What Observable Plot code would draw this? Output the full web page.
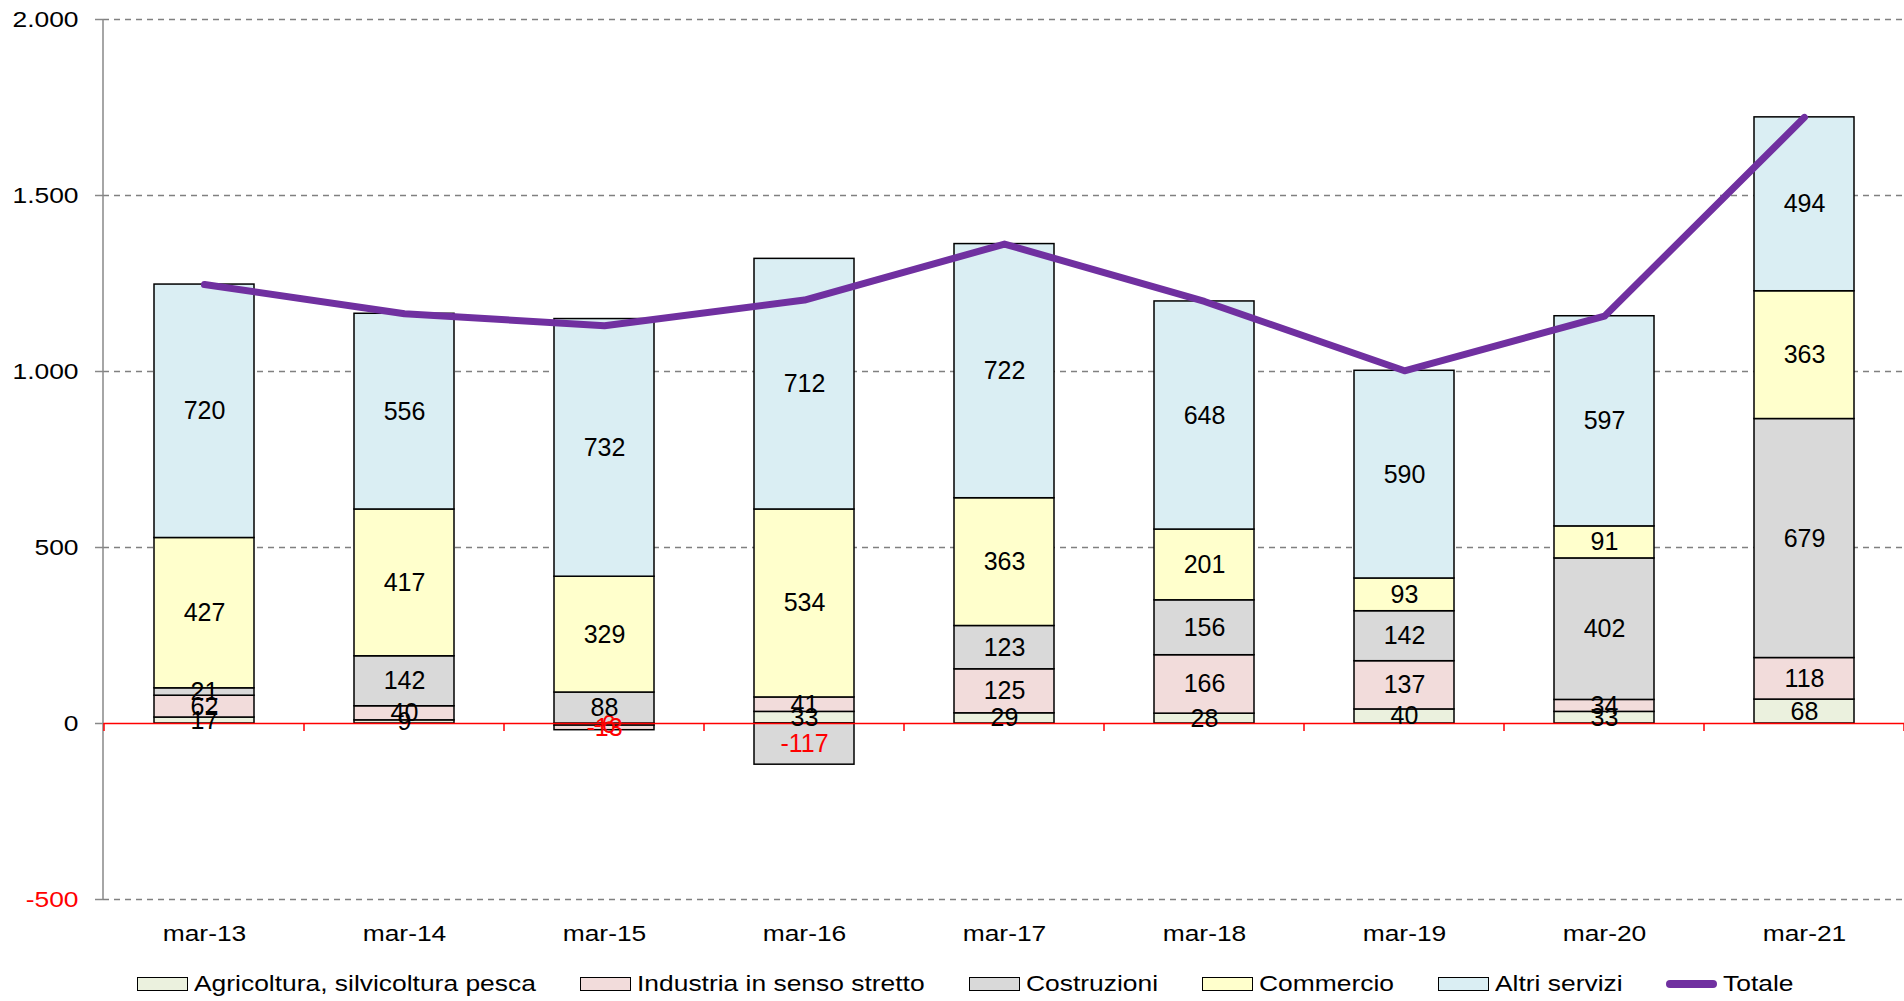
<!DOCTYPE html>
<html>
<head>
<meta charset="utf-8">
<script src="https://cdn.jsdelivr.net/npm/d3@7"></script>
<script src="https://cdn.jsdelivr.net/npm/@observablehq/plot@0.6"></script>
<style>
  html, body { margin: 0; padding: 0; background: #fff; overflow: hidden; }
  #legend { display: flex; align-items: center; height: 58px; padding-left: 137px;
            font-family: "Liberation Sans", Arial, sans-serif; font-size: 22px; color: #000; }
  .item { display: flex; align-items: center; }
  .sw { width: 51px; height: 14px; box-sizing: border-box; border: 1.5px solid #000; margin-right: 6px; }
  .swl { width: 51px; height: 8px; border-radius: 4px; margin-right: 6px; }
  .lab { display: inline-block; transform: scaleX(1.2); transform-origin: left center; white-space: nowrap; }
</style>
</head>
<body>
<div id="chart"></div>
<div id="legend"></div>
<script>
const categories = ["mar-13","mar-14","mar-15","mar-16","mar-17","mar-18","mar-19","mar-20","mar-21"];
const seriesNames = ["Agricoltura, silvicoltura pesca","Industria in senso stretto","Costruzioni","Commercio","Altri servizi"];
const seriesColors = ["#EBF1DE","#F2DCDB","#D9D9D9","#FFFFCC","#DAEEF3"];
const agricoltura = [17, 9, -6, 33, 29, 28, 40, 33, 68];
const industria = [62, 40, -13, 41, 125, 166, 137, 34, 118];
const costruzioni = [21, 142, 88, -117, 123, 156, 142, 402, 679];
const commercio = [427, 417, 329, 534, 363, 201, 93, 91, 363];
const altriServizi = [720, 556, 732, 712, 722, 648, 590, 597, 494];
const totale = [1247, 1164, 1130, 1203, 1362, 1199, 1002, 1157, 1722];
const totaleName = "Totale";
const totaleColor = "#7030A0";
const yTicks = [-500, 0, 500, 1000, 1500, 2000];

const seriesValues = [agricoltura, industria, costruzioni, commercio, altriServizi];
const long = [];
categories.forEach((c, i) => {
  seriesNames.forEach((s, j) => long.push({cat: c, series: s, value: seriesValues[j][i]}));
});
const lineData = categories.map((c, i) => ({cat: c, value: totale[i]}));

const loc = d3.formatLocale({decimal: ",", thousands: ".", grouping: [3], currency: ["€", ""], minus: "-"});
const fmt = loc.format(",");

const W = 1904, H = 955, ML = 103, MR = 0, MT = 19, MB = 56;

const chart = Plot.plot({
  width: W, height: H,
  marginLeft: ML, marginRight: MR, marginTop: MT, marginBottom: MB,
  style: {fontFamily: "'Liberation Sans', Arial, sans-serif", fontSize: "22px", background: "#fff", color: "#000"},
  x: {domain: categories, paddingInner: 0.5, paddingOuter: 0.25, label: null},
  y: {domain: [-500, 2000], label: null},
  color: {domain: seriesNames, range: seriesColors},
  marks: [
    Plot.ruleY(yTicks.filter(d => d !== 0), {stroke: "#808080", strokeWidth: 1.5, strokeDasharray: "6,5"}),
    Plot.barY(long, Plot.stackY({x: "cat", y: "value", fill: "series", stroke: "#000", strokeWidth: 1.5})),
    Plot.ruleY([0], {stroke: "#ff0000", strokeWidth: 1.5}),
    Plot.line(lineData, {x: "cat", y: "value", stroke: totaleColor, strokeWidth: 7, strokeLinecap: "round", strokeLinejoin: "round"}),
    Plot.text(long, Plot.stackY({x: "cat", y: "value", z: "series", text: d => fmt(d.value),
      fill: d => d.value < 0 ? "#ff0000" : "#000", fontSize: 25})),
    Plot.axisY({ticks: yTicks, tickSize: 8, tickFormat: () => "", color: "#888", strokeWidth: 1.5, label: null}),
    Plot.text(yTicks, {y: d => d, frameAnchor: "left", dx: -25, textAnchor: "end", text: d => fmt(d),
      fill: d => d < 0 ? "#ff0000" : "#000", fontSize: 22, ariaLabel: () => "ylabel"}),
    Plot.axisX({tickSize: 0, tickPadding: 26, fontSize: 22, color: "#000", label: null})
  ]
});

document.getElementById("chart").appendChild(chart);

// stretch axis labels horizontally like the reference
const svg = d3.select(chart);
svg.selectAll('text[aria-label="ylabel"], g[aria-label="x-axis tick label"] text').each(function() {
  const t = this.getAttribute("transform");
  if (t) this.setAttribute("transform", t + " scale(1.2,1)");
  else {
    const x = +this.getAttribute("x") || 0, y = +this.getAttribute("y") || 0;
    this.removeAttribute("x"); this.removeAttribute("y");
    this.setAttribute("transform", `translate(${x},${y}) scale(1.2,1)`);
  }
});

// y axis line and category boundary ticks on the zero line
const xs = chart.scale("x"), ys = chart.scale("y");
const y0 = ys.apply(0);
const x0 = xs.range[0];
svg.append("line").attr("x1", x0).attr("x2", x0).attr("y1", ys.apply(2000)).attr("y2", ys.apply(-500))
  .attr("stroke", "#888").attr("stroke-width", 1.5);
const gap = (xs.step - xs.bandwidth) / 2;
const bounds = categories.map(c => xs.apply(c) - gap);
bounds.push(xs.apply(categories[categories.length - 1]) + xs.bandwidth + gap);
svg.append("g").selectAll("line").data(bounds).join("line")
  .attr("x1", d => d).attr("x2", d => d).attr("y1", y0).attr("y2", y0 + 8)
  .attr("stroke", "#ff0000").attr("stroke-width", 1.5);

// legend
const legend = document.getElementById("legend");
seriesNames.forEach((s, i) => {
  const it = document.createElement("div"); it.className = "item";
  const sw = document.createElement("span"); sw.className = "sw"; sw.style.background = seriesColors[i];
  const lb = document.createElement("span"); lb.className = "lab"; lb.textContent = s;
  it.appendChild(sw); it.appendChild(lb); legend.appendChild(it);
});
{
  const it = document.createElement("div"); it.className = "item";
  const sw = document.createElement("span"); sw.className = "swl"; sw.style.background = totaleColor;
  const lb = document.createElement("span"); lb.className = "lab"; lb.textContent = totaleName;
  it.appendChild(sw); it.appendChild(lb); legend.appendChild(it);
}
legend.querySelectorAll(".lab").forEach(lb => {
  lb.style.marginRight = (lb.offsetWidth * 0.2 + 44) + "px";
});
</script>
</body>
</html>
